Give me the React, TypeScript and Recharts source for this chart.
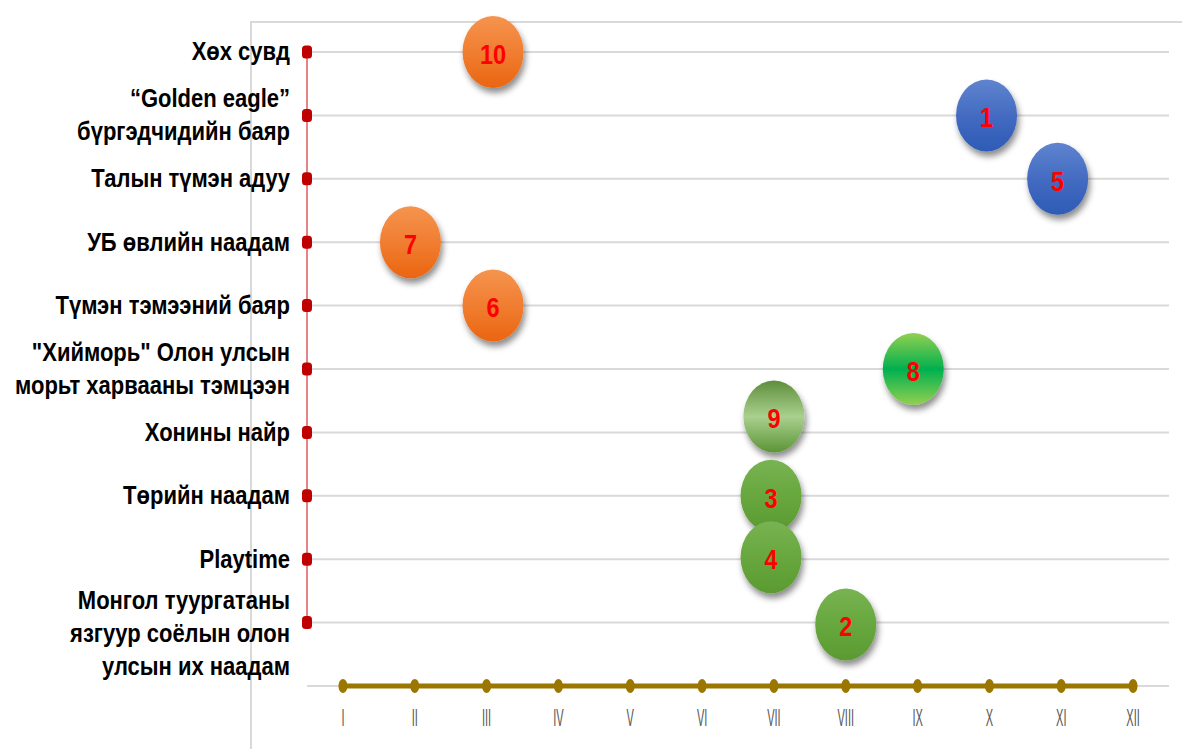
import React from "react";
import {
  ComposedChart,
  XAxis,
  YAxis,
  CartesianGrid,
  Line,
  Scatter,
} from "recharts";

// rows from bottom (y = 1) to top (y = 10)
const events = [
  "Монгол туургатаны\nязгуур соёлын олон\nулсын их наадам",
  "Playtime",
  "Төрийн наадам",
  "Хонины найр",
  "\"Хиймор\u044c\" Олон улсын\nморьт харвааны тэмцээн",
  "Түмэн тэмээний баяр",
  "УБ өвлийн наадам",
  "Талын түмэн адуу",
  "“Golden eagle”\nбүргэдчидийн баяр",
  "Хөх сувд",
];

const months = ["I", "II", "III", "IV", "V", "VI", "VII", "VIII", "IX", "X", "XI", "XII"];

// bubbles: rank number, month position, row position, season group
const rankNo = [10, 1, 5, 7, 6, 8, 9, 3, 4, 2];
const rankMonth = [3.09, 9.96, 10.95, 1.94, 3.09, 8.94, 7.0, 6.96, 6.96, 8.0];
const rankRow = [10, 9, 8, 7, 6, 5, 4.25, 3, 2.03, 0.97];
const rankSeason = ["winter", "autumn", "autumn", "winter", "winter", "summer", "summer", "summer", "summer", "summer"];

const FONT = "'Liberation Sans', Arial, sans-serif";

const bubbles = rankNo.map((n, i) => ({
  n,
  x: rankMonth[i],
  y: rankRow[i],
  season: rankSeason[i],
}));
const eventDots = events.map((_, i) => ({ x: 0.5, y: i + 1 }));
const monthDots = months.map((_, i) => ({ x: i + 1, y: 0 }));

const fillFor = (b: any) => {
  if (b.n === 8) return "url(#gBright)";
  if (b.n === 9) return "url(#gPale)";
  if (b.season === "winter") return "url(#gOrange)";
  if (b.season === "autumn") return "url(#gBlue)";
  return "url(#gGreen)";
};

const Bubble = (props: any) => {
  const { cx, cy, payload } = props;
  if (cx == null || cy == null) return null;
  return (
    <g>
      <ellipse cx={cx} cy={cy} rx={30.5} ry={36} fill={fillFor(payload)} filter="url(#shadow)" />
      <text
        transform={`translate(${cx},${cy + 2}) scale(0.84,1)`}
        x={0}
        y={0}
        textAnchor="middle"
        dominantBaseline="central"
        fill="#FF0000"
        fontFamily={FONT}
        fontWeight="bold"
        fontSize={28}
      >
        {payload.n}
      </text>
    </g>
  );
};

const EventTick = (props: any) => {
  const { x, y, payload } = props;
  if (!payload || payload.value < 1) return null;
  const lines = events[payload.value - 1].split("\n");
  const lh = 33;
  const start = lines.length === 3 ? -22 : -((lines.length - 1) * lh) / 2;
  return (
    <text
      transform={`translate(${x},${y}) scale(0.88,1)`}
      textAnchor="end"
      fill="#000"
      fontFamily={FONT}
      fontWeight="bold"
      fontSize={25}
    >
      {lines.map((l, i) => (
        <tspan key={i} x={0} y={start + i * lh} dominantBaseline="central">
          {l}
        </tspan>
      ))}
    </text>
  );
};

const MonthTick = (props: any) => {
  const { x, y, payload } = props;
  return (
    <text
      transform={`translate(${x},${y}) scale(0.46,1)`}
      textAnchor="middle"
      dominantBaseline="central"
      fill="#595959"
      fontFamily={FONT}
      fontSize={24}
    >
      {months[payload.value - 1]}
    </text>
  );
};

export default function App() {
  return (
    <div style={{ position: "absolute", left: 0, top: 0, width: 1182, height: 749, background: "#fff" }}>
      <div
        style={{
          position: "absolute",
          left: 250,
          top: 21,
          right: 0,
          bottom: 0,
          borderLeft: "2px solid #D9D9D9",
          borderTop: "2px solid #D9D9D9",
        }}
      />
      <div style={{ position: "absolute", left: 0, top: 0 }}>
        <ComposedChart
          width={1182}
          height={749}
          margin={{ top: 52, right: 13, bottom: 0, left: 0 }}
        >
          <defs>
            <linearGradient id="gOrange" x1="0" y1="0" x2="0" y2="1">
              <stop offset="0%" stopColor="#F5944E" />
              <stop offset="55%" stopColor="#F07B2E" />
              <stop offset="100%" stopColor="#EA6510" />
            </linearGradient>
            <linearGradient id="gBlue" x1="0" y1="0" x2="0" y2="1">
              <stop offset="0%" stopColor="#5F84CF" />
              <stop offset="55%" stopColor="#4169C0" />
              <stop offset="100%" stopColor="#2E5BB6" />
            </linearGradient>
            <linearGradient id="gGreen" x1="0" y1="0" x2="0" y2="1">
              <stop offset="0%" stopColor="#78B352" />
              <stop offset="55%" stopColor="#66A63C" />
              <stop offset="100%" stopColor="#5B9A32" />
            </linearGradient>
            <linearGradient id="gPale" x1="0" y1="0" x2="0" y2="1">
              <stop offset="0%" stopColor="#5E8E3C" />
              <stop offset="50%" stopColor="#A9D08E" />
              <stop offset="100%" stopColor="#5C9436" />
            </linearGradient>
            <linearGradient id="gBright" x1="0" y1="0" x2="0" y2="1">
              <stop offset="0%" stopColor="#92D050" />
              <stop offset="50%" stopColor="#00B050" />
              <stop offset="100%" stopColor="#92D050" />
            </linearGradient>
            <filter id="shadow" x="-40%" y="-40%" width="180%" height="180%">
              <feDropShadow dx="2" dy="5" stdDeviation="3" floodColor="#000" floodOpacity="0.45" />
            </filter>
          </defs>
          <CartesianGrid vertical={false} stroke="#D9D9D9" strokeWidth={2} />
          <XAxis
            type="number"
            dataKey="x"
            domain={[0.5, 12.5]}
            ticks={[1, 2, 3, 4, 5, 6, 7, 8, 9, 10, 11, 12]}
            axisLine={false}
            tickLine={false}
            tickSize={0}
            tickMargin={32}
            height={63}
            interval={0}
            tick={<MonthTick />}
          />
          <YAxis
            type="number"
            dataKey="y"
            domain={[0, 10]}
            ticks={[0, 1, 2, 3, 4, 5, 6, 7, 8, 9, 10]}
            width={307}
            axisLine={false}
            tickLine={false}
            tickSize={0}
            tickMargin={17}
            interval={0}
            tick={<EventTick />}
          />
          <Line
            data={eventDots}
            dataKey="y"
            stroke="#E05A5A"
            strokeWidth={1.5}
            isAnimationActive={false}
            dot={(p: any) => (
              <rect
                key={"e" + p.index}
                x={p.cx - 5}
                y={p.cy - 6.5}
                width={10}
                height={13}
                rx={3.5}
                fill="#C00000"
              />
            )}
            activeDot={false}
          />
          <Line
            data={monthDots}
            dataKey="y"
            stroke="#9B7700"
            strokeWidth={5}
            isAnimationActive={false}
            dot={(p: any) => (
              <ellipse key={"m" + p.index} cx={p.cx} cy={p.cy} rx={4.5} ry={7} fill="#9B7700" />
            )}
            activeDot={false}
          />
          <Scatter data={bubbles} dataKey="y" shape={<Bubble />} isAnimationActive={false} />
        </ComposedChart>
      </div>
    </div>
  );
}
